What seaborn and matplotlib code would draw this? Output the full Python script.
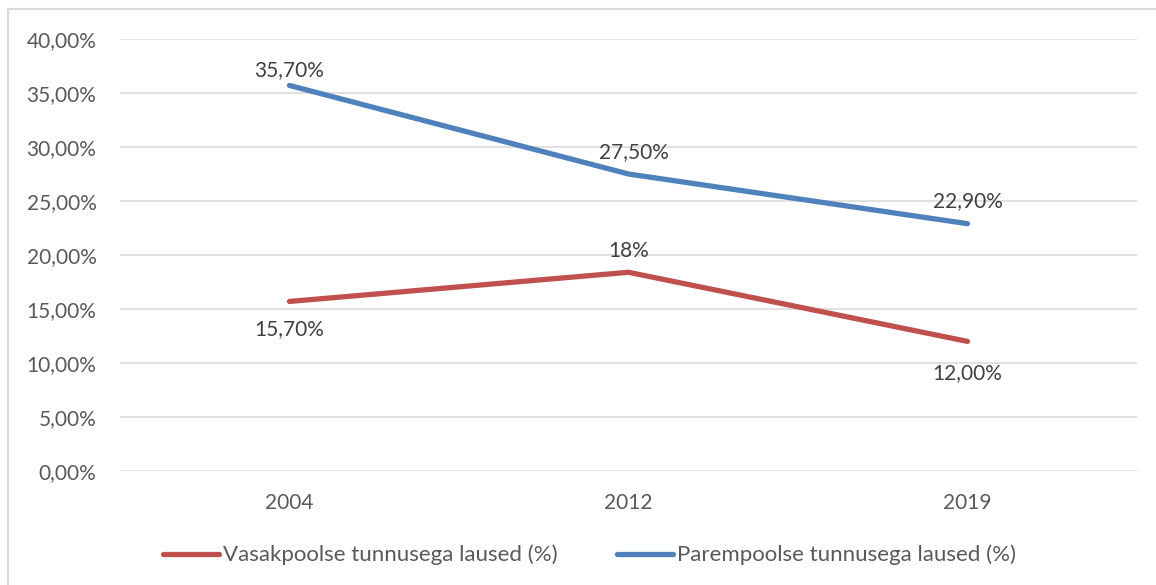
import matplotlib
matplotlib.use("Agg")
import matplotlib.pyplot as plt
import matplotlib.patches as mpatches
import seaborn as sns
import pandas as pd

years = ["2004", "2012", "2019"]
left_vals = [15.7, 18.4, 12.0]
right_vals = [35.7, 27.5, 22.9]
left_labels = ["15,70%", "18%", "12,00%"]
right_labels = ["35,70%", "27,50%", "22,90%"]
series_names = ["Vasakpoolse tunnusega laused (%)", "Parempoolse tunnusega laused (%)"]
yticks = [0, 5, 10, 15, 20, 25, 30, 35, 40]
ytick_labels = ["0,00%", "5,00%", "10,00%", "15,00%", "20,00%", "25,00%", "30,00%", "35,00%", "40,00%"]

df = pd.DataFrame({
    "year": years * 2,
    "value": left_vals + right_vals,
    "series": [series_names[0]] * 3 + [series_names[1]] * 3,
})

sns.set_theme(style="white")
plt.rcParams["font.family"] = ["Lato", "DejaVu Sans"]

W, H = 1156, 585
fig = plt.figure(figsize=(W / 100, H / 100), dpi=100)
ax = fig.add_axes([120 / W, 1 - 471 / H, (1137 - 120) / W, (471 - 39) / H])

colors = {series_names[0]: "#C0504D", series_names[1]: "#4F81BD"}
sns.lineplot(data=df, x="year", y="value", hue="series", palette=colors,
             linewidth=3.8, ax=ax, sort=False, legend=True)
for ln in ax.lines:
    ln.set_solid_capstyle("round")
    ln.set_solid_joinstyle("round")

ax.set_xlim(-0.5, 2.5)
ax.set_ylim(0, 40)
ax.set_yticks(yticks)
ax.set_yticklabels(ytick_labels)
ax.yaxis.grid(True, color="#D9D9D9", linewidth=1.1)
ax.xaxis.grid(False)
ax.set_axisbelow(True)
for s in ax.spines.values():
    s.set_visible(False)
ax.tick_params(axis="y", length=0, pad=17, labelsize=15, labelcolor="#595959")
ax.tick_params(axis="x", length=0, pad=16, labelsize=15, labelcolor="#595959")
ax.set_xlabel("")
ax.set_ylabel("")

# data labels: baseline offsets in pixels (positive = above point)
left_off = [(0, -34), (0, 15), (0, -38)]
right_off = [(0, 9), (5, 16), (0, 17)]
px = 72 / 100
for vals, labs, offs in [(left_vals, left_labels, left_off), (right_vals, right_labels, right_off)]:
    for i, (v, lab, (dx, dy)) in enumerate(zip(vals, labs, offs)):
        ax.annotate(lab, (i, v), xytext=(dx * px, dy * px), textcoords="offset points",
                    ha="center", va="baseline", fontsize=15, color="#404040")

# legend
handles, labels = ax.get_legend_handles_labels()
ax.get_legend().remove()
fig.legend(handles, labels, loc="center left", bbox_to_anchor=(163 / W, 1 - 555 / H),
           ncol=2, frameon=False, fontsize=16, labelcolor="#595959",
           handlelength=2.5, handletextpad=0.18, columnspacing=2.7,
           borderpad=0, borderaxespad=0)

# chart area border
fig.add_artist(mpatches.Rectangle((8 / W, -0.1), 1.2, 1 - 9 / H + 0.1,
                                  transform=fig.transFigure, fill=False,
                                  edgecolor="#D9D9D9", linewidth=1.5))

fig.savefig("out.png", dpi=100, facecolor="white")
